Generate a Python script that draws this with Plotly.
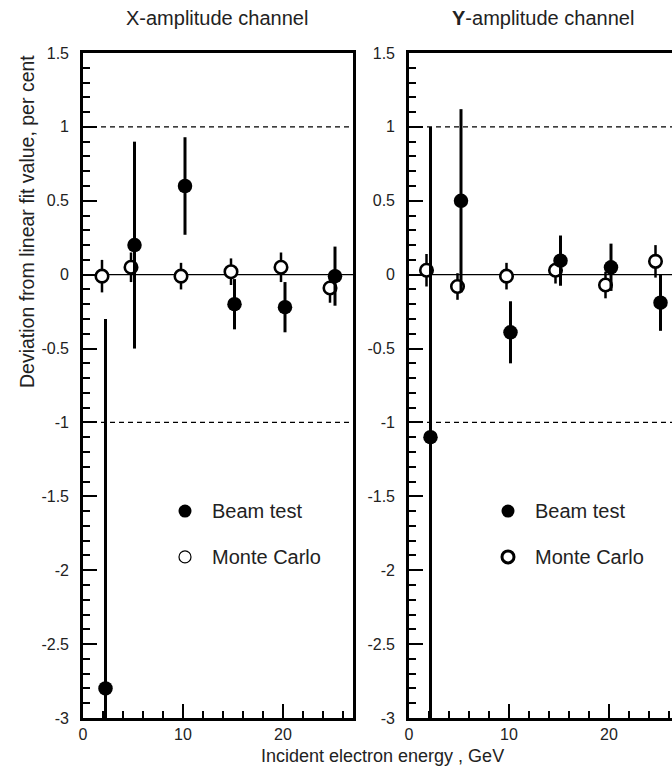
import plotly.graph_objects as go

# ---- data ----
# X-amplitude channel
x_beam_energy = [2.25, 5.15, 10.2, 15.15, 20.2, 25.2]
x_beam_dev = [-2.8, 0.2, 0.6, -0.2, -0.22, -0.01]
x_beam_err = [2.5, 0.7, 0.33, 0.17, 0.17, 0.2]
x_mc_energy = [1.9, 4.8, 9.8, 14.8, 19.8, 24.7]
x_mc_dev = [-0.01, 0.05, -0.01, 0.02, 0.05, -0.09]
x_mc_err = [0.11, 0.1, 0.09, 0.09, 0.1, 0.1]

# Y-amplitude channel
y_beam_energy = [2.15, 5.2, 10.15, 15.15, 20.2, 25.15]
y_beam_dev = [-1.1, 0.5, -0.39, 0.095, 0.05, -0.19]
y_beam_err = [2.1, 0.62, 0.21, 0.17, 0.16, 0.19]
y_mc_energy = [1.75, 4.85, 9.75, 14.65, 19.65, 24.65]
y_mc_dev = [0.03, -0.08, -0.01, 0.03, -0.07, 0.09]
y_mc_err = [0.11, 0.09, 0.09, 0.09, 0.09, 0.11]

ytick_vals = [1.5, 1, 0.5, 0, -0.5, -1, -1.5, -2, -2.5, -3]
ytick_text = ["1.5", "1", "0.5", "0", "-0.5", "-1", "-1.5", "-2", "-2.5", "-3"]
xtick_vals = [0, 10, 20]
xtick_text = ["0", "10", "20"]

legend_labels = ["Beam test", "Monte Carlo"]
legend_y = [-1.6, -1.91]

W, H = 672, 770
FONT = "Liberation Sans, Arial, sans-serif"

fig = go.Figure()

def add_panel(xa, ya, mc_e, mc_d, mc_err, b_e, b_d, b_err, leg_x, leg_open_lw):
    fig.add_trace(go.Scatter(
        x=mc_e, y=mc_d, mode="markers", xaxis=xa, yaxis=ya,
        error_y=dict(type="data", array=mc_err, width=0, thickness=2.5, color="black"),
        marker=dict(symbol="circle", size=12.5, color="white",
                    line=dict(color="black", width=2.6)),
        showlegend=False))
    fig.add_trace(go.Scatter(
        x=b_e, y=b_d, mode="markers", xaxis=xa, yaxis=ya,
        error_y=dict(type="data", array=b_err, width=0, thickness=3, color="black"),
        marker=dict(symbol="circle", size=14.5, color="black",
                    line=dict(color="black", width=0)),
        showlegend=False))
    # legend-like key drawn inside panel
    fig.add_trace(go.Scatter(
        x=[leg_x], y=[legend_y[0]], mode="markers", xaxis=xa, yaxis=ya,
        marker=dict(symbol="circle", size=13, color="black"), showlegend=False))
    fig.add_trace(go.Scatter(
        x=[leg_x], y=[legend_y[1]], mode="markers", xaxis=xa, yaxis=ya,
        marker=dict(symbol="circle", size=12, color="white",
                    line=dict(color="black", width=leg_open_lw)), showlegend=False))
    for lab, ly in zip(legend_labels, legend_y):
        fig.add_annotation(x=leg_x + 2.5, y=ly, xref=xa, yref=ya, text=lab,
                           showarrow=False, xanchor="left", yanchor="middle",
                           font=dict(family=FONT, size=20, color="#222"))
    # reference lines
    xd = xa + " domain"
    fig.add_shape(type="line", xref=xd, yref=ya, x0=0, x1=1, y0=0, y1=0,
                  line=dict(color="black", width=1.2), layer="below")
    for yv in (1, -1):
        fig.add_shape(type="line", xref=xd, yref=ya, x0=0, x1=1, y0=yv, y1=yv,
                      line=dict(color="black", width=1.3, dash="5px,4px"), layer="below")

add_panel("x", "y", x_mc_energy, x_mc_dev, x_mc_err,
          x_beam_energy, x_beam_dev, x_beam_err, 10.2, 1.2)
add_panel("x2", "y2", y_mc_energy, y_mc_dev, y_mc_err,
          y_beam_energy, y_beam_dev, y_beam_err, 9.9, 3)

top_px, bot_px = 53, 718
ydom = [(H - bot_px) / H, (H - top_px) / H]

tickfont = dict(family=FONT, size=16, color="#222")
xcommon = dict(tickvals=xtick_vals, ticktext=xtick_text, ticks="inside",
               ticklen=14, tickwidth=1.8, tickcolor="black", showgrid=False,
               zeroline=False, showline=True, linecolor="black", linewidth=2.6,
               mirror=True, tickfont=tickfont, ticklabelstandoff=0, automargin=False,
               minor=dict(dtick=2, tick0=0, ticks="inside", ticklen=7,
                          tickwidth=1.6, tickcolor="black", showgrid=False))
ycommon = dict(range=[-3, 1.5], tickvals=ytick_vals, ticktext=ytick_text,
               ticks="inside", ticklen=14, tickwidth=1.8, tickcolor="black",
               showgrid=False, zeroline=False, showline=True, linecolor="black",
               linewidth=2.6, tickfont=tickfont, ticklabelstandoff=8, automargin=False,
               minor=dict(dtick=0.1, tick0=0, ticks="inside", ticklen=7,
                          tickwidth=1.6, tickcolor="black", showgrid=False))

fig.update_layout(
    template="none",
    width=W, height=H, margin=dict(l=0, r=0, t=0, b=0, pad=0), autosize=False,
    paper_bgcolor="white", plot_bgcolor="white", showlegend=False,
    xaxis=dict(domain=[83 / W, 353 / W], range=[0, 27], anchor="y", **xcommon),
    yaxis=dict(domain=ydom, anchor="x", mirror=True, **ycommon),
    xaxis2=dict(domain=[409 / W, 1.0], range=[0, 26.3], anchor="y2", **xcommon),
    yaxis2=dict(domain=ydom, anchor="x2", mirror=False, **ycommon),
)

def paper_y(px):
    return (H - px) / H

def label(x_px, y_px, text, size, angle=0):
    fig.add_annotation(x=x_px / W, y=paper_y(y_px), xref="paper", yref="paper",
                       text=text, showarrow=False, textangle=angle,
                       xanchor="center", yanchor="middle",
                       font=dict(family=FONT, size=size, color="#222"))

label(217, 18, "X-amplitude channel", 20)
label(543, 18, "<b>Y</b>-amplitude channel", 20)
label(27, 222, "Deviation from linear fit value, per cent", 19.5, -90)
label(382, 756, "Incident electron energy , GeV", 18)

fig.write_html("out.html")
